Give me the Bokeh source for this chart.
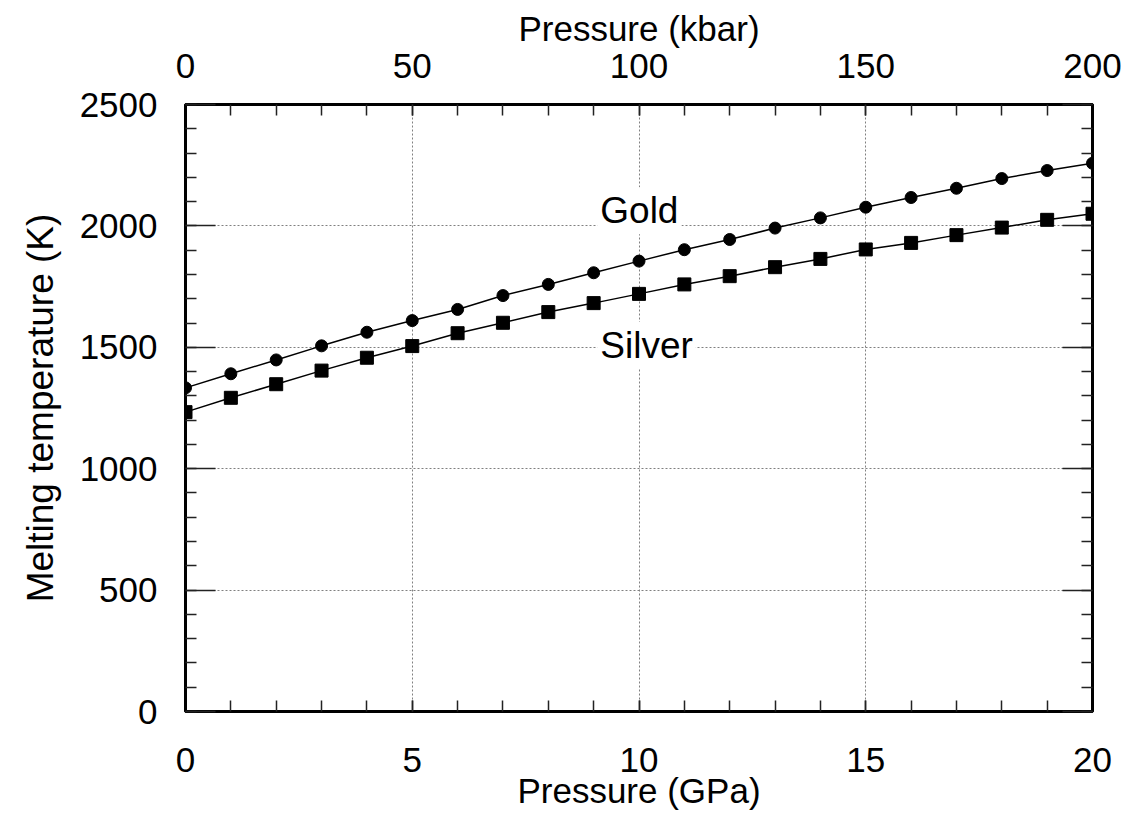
import numpy as np
from bokeh.plotting import figure
from bokeh.models import Range1d, LinearAxis, FixedTicker, Label, Grid, Title
from bokeh.embed import file_html
from bokeh.resources import INLINE

# ---------------- data ----------------
pressure_gpa = list(range(21))
gold_tm = [1333, 1391, 1448, 1506, 1562, 1610, 1656, 1713, 1759, 1807, 1855,
           1902, 1944, 1991, 2033, 2077, 2117, 2155, 2195, 2228, 2258]
silver_tm = [1233, 1292, 1348, 1404, 1457, 1505, 1558, 1601, 1645, 1682, 1720,
             1759, 1793, 1830, 1864, 1903, 1930, 1962, 1993, 2025, 2050]
gpa_ticks = [0, 5, 10, 15, 20]
gpa_minor = list(range(0, 21))
kbar_ticks = [0, 50, 100, 150, 200]
kbar_minor = list(range(0, 201, 10))
temp_ticks = [0, 500, 1000, 1500, 2000, 2500]
temp_minor = list(range(0, 2501, 100))
grid_x = [5, 10, 15]
grid_y = [500, 1000, 1500, 2000]

FONT = "Liberation Sans"

p = figure(width=1131, height=823, output_backend="svg", toolbar_location=None,
           x_range=Range1d(0, 20), y_range=Range1d(0, 2500),
           x_axis_type=None, y_axis_type=None,
           min_border_left=185, min_border_right=39,
           min_border_top=104, min_border_bottom=112)
p.extra_x_ranges = {"kbar": Range1d(0, 200)}
p.background_fill_color = "white"
p.border_fill_color = "white"
p.outline_line_color = "black"
p.outline_line_width = 3


def style(ax, major_in, minor_in, standoff, labels=True):
    ax.axis_line_color = "black"
    ax.axis_line_width = 3
    ax.major_tick_in = major_in
    ax.major_tick_out = 0
    ax.minor_tick_in = minor_in
    ax.minor_tick_out = 0
    ax.major_tick_line_color = "#222222"
    ax.minor_tick_line_color = "#222222"
    ax.major_tick_line_width = 1.5
    ax.minor_tick_line_width = 1.5
    ax.major_label_text_font = FONT
    ax.major_label_text_font_size = "35px"
    ax.major_label_text_color = "black" if labels else None
    ax.major_label_standoff = standoff


bottom = LinearAxis(ticker=FixedTicker(ticks=gpa_ticks, minor_ticks=gpa_minor))
style(bottom, 11, 11, 36)
p.add_layout(bottom, "below")

top = LinearAxis(x_range_name="kbar",
                 ticker=FixedTicker(ticks=kbar_ticks, minor_ticks=kbar_minor))
style(top, 11, 11, 27)
p.add_layout(top, "above")

left = LinearAxis(ticker=FixedTicker(ticks=temp_ticks, minor_ticks=temp_minor))
style(left, 30, 11, 28)
p.add_layout(left, "left")

right = LinearAxis(ticker=FixedTicker(ticks=temp_ticks, minor_ticks=temp_minor))
style(right, 30, 11, 0, labels=False)
p.add_layout(right, "right")

for dim, ticks in ((0, grid_x), (1, grid_y)):
    g = Grid(dimension=dim, ticker=FixedTicker(ticks=ticks))
    g.grid_line_color = "#808080"
    g.grid_line_dash = "2 2"
    g.grid_line_width = 1
    p.add_layout(g)

# axis titles
p.add_layout(Title(text="Pressure (GPa)", align="center", offset=14,
                   standoff=-12, text_font=FONT, text_font_size="35px",
                   text_font_style="normal", text_color="black"), "below")
p.add_layout(Title(text="Pressure (kbar)", align="center", offset=5,
                   standoff=5, text_font=FONT, text_font_size="35px",
                   text_font_style="normal", text_color="black"), "above")
p.add_layout(Title(text="Melting temperature (K)", align="center", offset=52,
                   standoff=32, text_font=FONT, text_font_size="37px",
                   text_font_style="normal", text_color="black"), "left")

# series
p.line(pressure_gpa, gold_tm, line_color="black", line_width=1.5)
p.scatter(pressure_gpa, gold_tm, marker="circle", size=12,
          fill_color="black", line_color="black")
p.line(pressure_gpa, silver_tm, line_color="black", line_width=1.5)
p.scatter(pressure_gpa, silver_tm, marker="square", size=13,
          fill_color="black", line_color="black")

# in-plot labels
for txt, xv, yv in (("Gold", 9.08, 2062), ("Silver", 9.08, 1507)):
    p.add_layout(Label(x=xv, y=yv, text=txt, text_font=FONT,
                       text_font_size="37px", text_color="black",
                       text_baseline="alphabetic", text_align="left",
                       background_fill_color="white", padding=3))

open("out.html", "w").write(file_html(p, INLINE))
